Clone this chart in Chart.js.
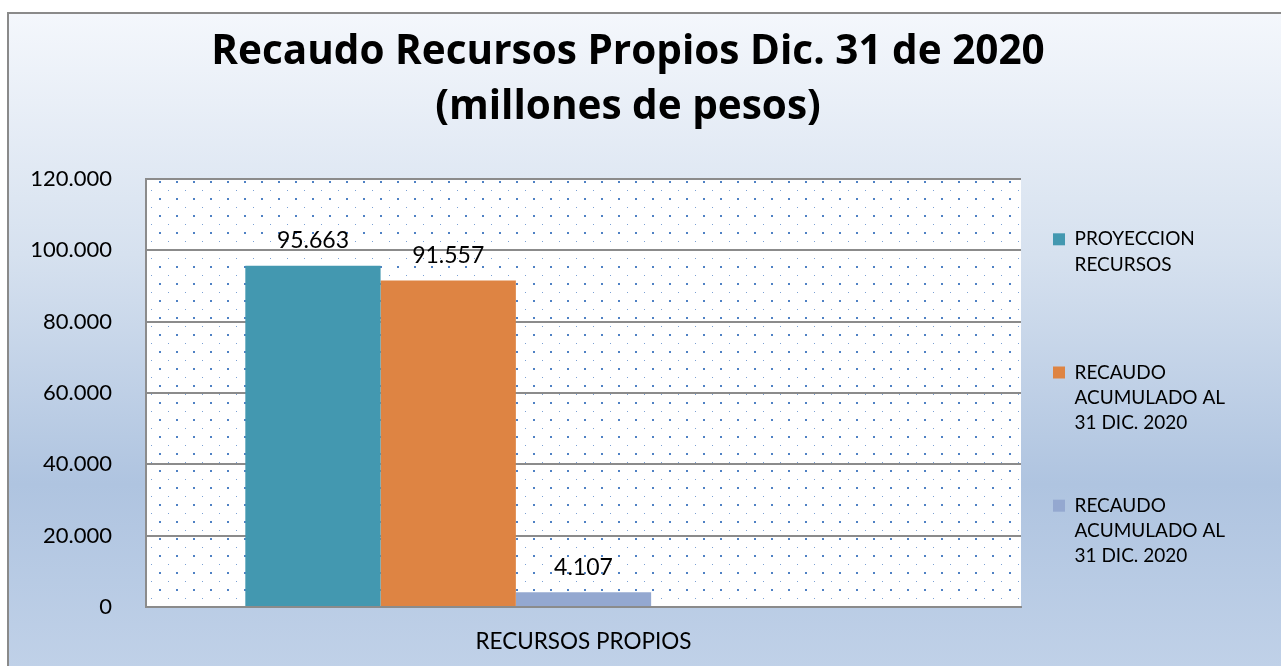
<!DOCTYPE html>
<html>
<head>
<meta charset="utf-8">
<script src="https://cdn.jsdelivr.net/npm/chart.js@4/dist/chart.umd.min.js"></script>
<style>
  html, body { margin: 0; padding: 0; background: #fff; overflow: hidden; }
  #frame {
    position: absolute; left: 7px; top: 12px; width: 1300px; height: 680px;
    border-left: 2px solid #8a8a8a; border-top: 2px solid #8a8a8a;
    background: linear-gradient(to bottom, #f4f7fc 0px, #d6e1ef 240px, #afc4e0 470px, #c0d1e8 654px);
  }
  #chart { position: absolute; left: 0; top: 0; }
</style>
</head>
<body>
<div id="frame"></div>
<canvas id="chart" width="1281" height="666"></canvas>
<script>
var FONT = "Lato, 'Open Sans', sans-serif";
var TITLE_FONT = "'Open Sans', Lato, sans-serif";

var categories = ["RECURSOS PROPIOS"];
var seriesLabels = [
  ["PROYECCION", "RECURSOS"],
  ["RECAUDO", "ACUMULADO AL", "31 DIC. 2020"],
  ["RECAUDO", "ACUMULADO AL", "31 DIC. 2020"]
];
var proyeccionRecursos = [95663];
var recaudoAcumulado = [91557];
var recaudoAcumulado2 = [4107];
var emptySlot = [null];
var seriesColors = ["#4398b0", "#de8443", "#94a8d0"];
var yMax = 120000;
var yStep = 20000;

function fmt(v) {
  return String(v).replace(/\B(?=(\d{3})+(?!\d))/g, ".");
}

// dotted fill of the plot area
function dotPattern(ctx) {
  var c = document.createElement("canvas");
  c.width = 17; c.height = 17;
  var g = c.getContext("2d");
  g.fillStyle = "#4f81c4";
  g.fillRect(6, 11, 2, 2);
  g.fillStyle = "#7aa0d4";
  g.fillRect(15, 3, 1, 1);
  return ctx.createPattern(c, "repeat");
}

var plotBackground = {
  id: "plotBackground",
  beforeDraw: function (chart) {
    var a = chart.chartArea, ctx = chart.ctx;
    ctx.save();
    ctx.fillStyle = "#ffffff";
    ctx.fillRect(a.left, a.top, a.right - a.left, a.bottom - a.top);
    ctx.fillStyle = dotPattern(ctx);
    ctx.fillRect(a.left, a.top, a.right - a.left, a.bottom - a.top);
    ctx.restore();
  }
};

var valueLabels = {
  id: "valueLabels",
  afterDatasetsDraw: function (chart) {
    var ctx = chart.ctx;
    ctx.save();
    ctx.font = "23px " + FONT;
    ctx.fillStyle = "#000";
    ctx.textAlign = "center";
    ctx.textBaseline = "middle";
    chart.data.datasets.forEach(function (ds, i) {
      chart.getDatasetMeta(i).data.forEach(function (bar, j) {
        var v = ds.data[j];
        if (v === null || v === undefined) return;
        ctx.fillText(fmt(v), bar.x, bar.y - 25);
      });
    });
    ctx.restore();
  }
};

// blank filler line keeps every legend entry the same height (and width)
var FILLER = new Array(61).join(" ");

var ctx = document.getElementById("chart").getContext("2d");
var chart = new Chart(ctx, {
  type: "bar",
  data: {
    labels: categories,
    datasets: [
      { label: seriesLabels[0], data: proyeccionRecursos, backgroundColor: seriesColors[0] },
      { label: seriesLabels[1], data: recaudoAcumulado, backgroundColor: seriesColors[1] },
      { label: seriesLabels[2], data: recaudoAcumulado2, backgroundColor: seriesColors[2] },
      { label: "", data: emptySlot },
      { label: "", data: emptySlot }
    ]
  },
  options: {
    responsive: false,
    animation: false,
    devicePixelRatio: 1,
    layout: { padding: { left: 20, right: 45, top: 0, bottom: 0 } },
    datasets: { bar: { categoryPercentage: 0.773, barPercentage: 1, borderWidth: 0 } },
    scales: {
      x: {
        grid: { display: false, drawTicks: false },
        border: { display: true, color: "#8b8b8b", width: 2 },
        ticks: { color: "#000", font: { family: FONT, size: 22.5 }, padding: 21 },
        afterFit: function (s) { s.height = 59; }
      },
      y: {
        min: 0,
        max: yMax,
        ticks: {
          stepSize: yStep,
          color: "#000",
          font: { family: FONT, size: 22 },
          padding: 34,
          callback: function (v) { return fmt(v); }
        },
        grid: { color: "#8b8b8b", lineWidth: 2, drawTicks: false },
        border: { display: true, color: "#8b8b8b", width: 2 },
        afterFit: function (s) { s.width = 126; }
      }
    },
    plugins: {
      title: {
        display: true,
        text: ["Recaudo Recursos Propios Dic. 31 de 2020", "(millones de pesos)"],
        color: "#000",
        font: { family: TITLE_FONT, size: 40.5, weight: "bold", lineHeight: "55px" },
        padding: { top: 24.5, bottom: 44.5 }
      },
      legend: {
        position: "right",
        align: "start",
        maxWidth: 215,
        title: { display: true, text: " ", font: { size: 10, lineHeight: 1 }, padding: { top: 187.8, bottom: 0 } },
        labels: {
          color: "#000",
          boxWidth: 12,
          boxHeight: 12,
          padding: 32,
          font: { family: FONT, size: 19, lineHeight: "25.3px" },
          filter: function (item) { return item.datasetIndex < 3; },
          generateLabels: function (c) {
            return Chart.defaults.plugins.legend.labels.generateLabels(c).map(function (item) {
              if (Array.isArray(item.text)) {
                var t = item.text.slice();
                while (t.length < 3) t.push("");
                t.push(FILLER);
                item.text = t;
              }
              return item;
            });
          }
        }
      },
      tooltip: { enabled: false }
    }
  },
  plugins: [plotBackground, valueLabels]
});
</script>
</body>
</html>
